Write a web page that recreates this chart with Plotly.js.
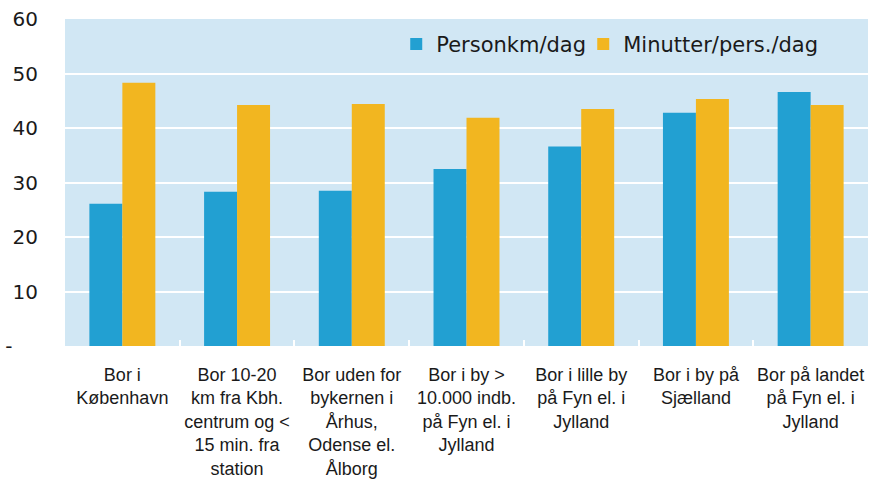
<!DOCTYPE html>
<html>
<head>
<meta charset="utf-8">
<script src="https://cdn.plot.ly/plotly-3.0.1.min.js"></script>
<style>html,body{margin:0;padding:0;background:#fff;}#chart{width:879px;height:483px;}</style>
</head>
<body>
<div id="chart"></div>
<script>
const categories = [
  "Bor i<br>København",
  "Bor 10-20<br>km fra Kbh.<br>centrum og &lt;<br>15 min. fra<br>station",
  "Bor uden for<br>bykernen i<br>Århus,<br>Odense el.<br>Ålborg",
  "Bor i by &gt;<br>10.000 indb.<br>på Fyn el. i<br>Jylland",
  "Bor i lille by<br>på Fyn el. i<br>Jylland",
  "Bor i by på<br>Sjælland",
  "Bor på landet<br>på Fyn el. i<br>Jylland"
];
const personkm = [26.1, 28.3, 28.5, 32.5, 36.6, 42.8, 46.6];
const minutter = [48.3, 44.2, 44.4, 41.9, 43.5, 45.3, 44.2];
const seriesNames = ["Personkm/dag", "Minutter/pers./dag"];
const yTickVals = [0, 10, 20, 30, 40, 50, 60];
const yTickText = ["-\u00a0\u00a0\u00a0\u00a0", "10", "20", "30", "40", "50", "60"];

const data = [
  {type: "bar", x: categories, y: personkm, name: seriesNames[0], marker: {color: "#22a0d2"}, hoverinfo: "y", legendwidth: 142},
  {type: "bar", x: categories, y: minutter, name: seriesNames[1], marker: {color: "#f2b620"}, hoverinfo: "y"}
];

const layout = {
  width: 879, height: 483,
  margin: {l: 65, r: 11, t: 19, b: 137},
  paper_bgcolor: "#ffffff",
  plot_bgcolor: "#d1e7f4",
  barmode: "group",
  bargap: 0.425,
  bargroupgap: 0,
  showlegend: true,
  legend: {
    orientation: "h", x: 0.4125, xanchor: "left", y: 0.985, yanchor: "top",
    bgcolor: "rgba(0,0,0,0)",
    font: {family: "DejaVu Sans", size: 21, color: "#1a1a1a"},
    traceorder: "normal"
  },
  xaxis: {
    type: "category",
    showgrid: false, zeroline: false, showline: false,
    ticks: "inside", tickson: "boundaries", ticklen: 6, tickwidth: 2, tickcolor: "#ffffff",
    ticklabelstandoff: 16,
    tickfont: {family: "Liberation Sans, Arial, sans-serif", size: 18, color: "#1a1a1a"},
    tickangle: 0,
    automargin: false
  },
  yaxis: {
    range: [0, 60],
    tickmode: "array", tickvals: yTickVals, ticktext: yTickText,
    showgrid: true, gridcolor: "#ffffff", gridwidth: 2,
    zeroline: false, showline: false, ticks: "",
    ticklabelstandoff: 26,
    tickfont: {family: "DejaVu Sans", size: 20, color: "#1a1a1a"},
    automargin: false
  }
};

Plotly.newPlot("chart", data, layout, {displayModeBar: false, staticPlot: true});
</script>
</body>
</html>
